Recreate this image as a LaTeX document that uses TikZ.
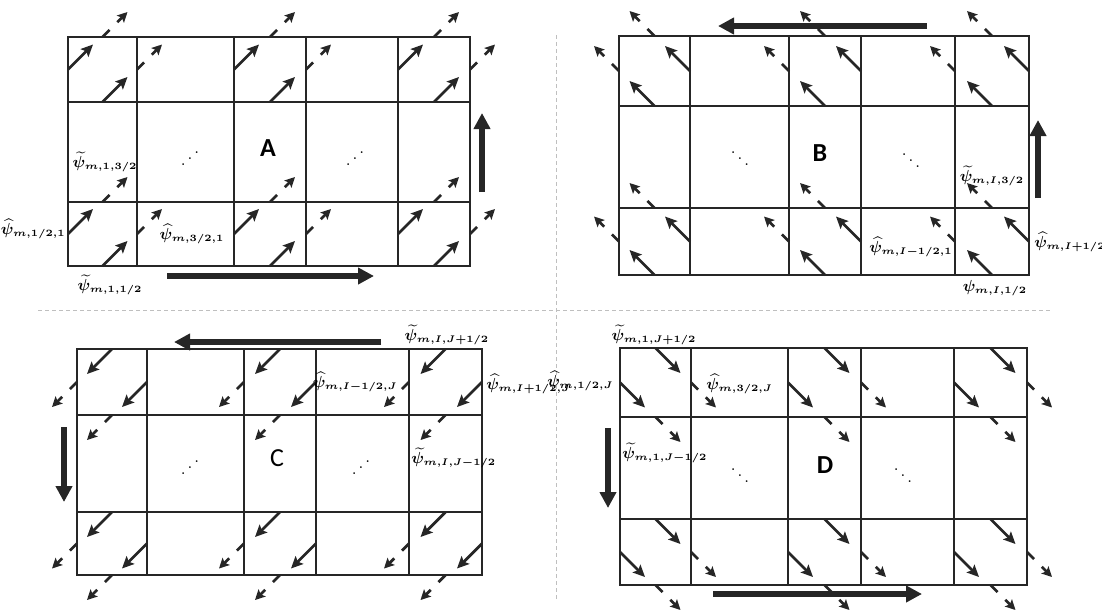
\RequirePackage{fix-cm}
\documentclass[tikz,border=0pt]{standalone}
\usepackage{amsmath}
\usepackage{bm}
\usepackage{fontspec}
\newfontfamily\panelfont{Carlito}
\usetikzlibrary{arrows.meta}
\DeclareMathSizes{8}{8}{4.8}{4}

\tikzset{
  cellgrid/.style={draw=black!85, line width=1.4pt},
  flux/.style={black!85, line width=1.4pt, -{Stealth[length=6pt,width=5.5pt,inset=1.2pt]}},
  fluxout/.style={black!85, line width=1.4pt, dash pattern=on 5pt off 5.5pt, -{Stealth[length=5pt,width=5pt,inset=1pt]}},
  sweep/.style={black!85, line width=3pt, -{Triangle[length=8pt,width=8pt]}},
  divider/.style={black!25, line width=0.4pt, dash pattern=on 2pt off 1.5pt},
  lab/.style={inner sep=0pt, font=\fontsize{8}{9.5}\selectfont\boldmath},
  panel/.style={font=\panelfont\bfseries\fontsize{13}{15}\selectfont},
  dotsn/.style={inner sep=0pt, font=\footnotesize\boldmath},
}

\begin{document}
\begin{tikzpicture}[x=0.5pt, y=-0.5pt]
\useasboundingbox (0,0) rectangle (1102,612);

% dividers
\draw[divider] (556,35) -- (556,600);
\draw[divider] (38,310) -- (1052,310);

% ---- A : sweep to the upper right
\draw[cellgrid] (68,37) rectangle (470,266);
\foreach \x in {137,234,306,398} \draw[cellgrid] (\x,37) -- (\x,266);
\foreach \y in {102,202} \draw[cellgrid] (68,\y) -- (470,\y);
\foreach \xa/\xb in {68/137,234/306,398/470}
  \foreach \ya/\yb in {37/102,202/266} {
    \pgfmathsetmacro\xm{(\xa+\xb)/2}
    \pgfmathsetmacro\ym{(\ya+\yb)/2}
    \draw[flux] (\xa,\ym) -- ++(25,-25);
    \draw[flux] (\xm,\yb) -- ++(25,-25);
    \draw[fluxout] (\xb,\ym) -- ++(25,-25);
    \draw[fluxout] (\xm,\ya) -- ++(25,-25);
  }
\draw[sweep] (167,276) -- (374,276);
\draw[sweep] (482,192) -- (482,113);
\node[lab] (psiAy) at (105,162) {$\widetilde{\psi}_{m,1,3/2}$};
\node[lab, anchor=east] (psiAxl) at (66,229) {$\widehat{\psi}_{m,1/2,1}$};
\node[lab] (psiAxr) at (192,234) {$\widehat{\psi}_{m,3/2,1}$};
\node[lab] (psiAb) at (110,285) {$\widetilde{\psi}_{m,1,1/2}$};
\node[panel] (tagA) at (268,148) {A};
\node[dotsn] (dotsA1) at (190,153) {\reflectbox{$\ddots$}};
\node[dotsn] (dotsA2) at (355,153) {\reflectbox{$\ddots$}};

% ---- B : sweep to the upper left
\draw[cellgrid] (619,36) rectangle (1029,275);
\foreach \x in {690,789,861,955} \draw[cellgrid] (\x,36) -- (\x,275);
\foreach \y in {106,208} \draw[cellgrid] (619,\y) -- (1029,\y);
\foreach \xa/\xb in {619/690,789/861,955/1029}
  \foreach \ya/\yb in {36/106,208/275} {
    \pgfmathsetmacro\xm{(\xa+\xb)/2}
    \pgfmathsetmacro\ym{(\ya+\yb)/2}
    \draw[flux] (\xb,\ym) -- ++(-25,-25);
    \draw[flux] (\xm,\yb) -- ++(-25,-25);
    \draw[fluxout] (\xa,\ym) -- ++(-25,-25);
    \draw[fluxout] (\xm,\ya) -- ++(-25,-25);
  }
\draw[sweep] (927,26) -- (718,26);
\draw[sweep] (1038,198) -- (1038,120);
\node[lab] (psiBy) at (992,176) {$\widetilde{\psi}_{m,I,3/2}$};
\node[lab, anchor=east] (psiBxl) at (953,247) {$\widehat{\psi}_{m,I-1/2,1}$};
\node[lab, anchor=west] (psiBxr) at (1034,242) {$\widehat{\psi}_{m,I+1/2,1}$};
\node[lab] (psiBb) at (995,288) {$\psi_{m,I,1/2}$};
\node[panel] (tagB) at (820,153) {B};
\node[dotsn] (dotsB1) at (740,153) {$\ddots$};
\node[dotsn] (dotsB2) at (911,155) {$\ddots$};

% ---- C : sweep to the lower left
\draw[cellgrid] (77,349) rectangle (482,575);
\foreach \x in {147,244,316,409} \draw[cellgrid] (\x,349) -- (\x,575);
\foreach \y in {415,512} \draw[cellgrid] (77,\y) -- (482,\y);
\foreach \xa/\xb in {77/147,244/316,409/482}
  \foreach \ya/\yb in {349/415,512/575} {
    \pgfmathsetmacro\xm{(\xa+\xb)/2}
    \pgfmathsetmacro\ym{(\ya+\yb)/2}
    \draw[flux] (\xm,\ya) -- ++(-25,25);
    \draw[flux] (\xb,\ym) -- ++(-25,25);
    \draw[fluxout] (\xa,\ym) -- ++(-25,25);
    \draw[fluxout] (\xm,\yb) -- ++(-25,25);
  }
\draw[sweep] (381,342) -- (174,342);
\draw[sweep] (64,427) -- (64,502);
\node[lab] (psiCt) at (447,335) {$\widetilde{\psi}_{m,I,J+1/2}$};
\node[lab, anchor=east] (psiCxl) at (398,382) {$\widehat{\psi}_{m,I-1/2,J}$};
\node[lab, anchor=west] (psiCxr) at (486,384) {$\widehat{\psi}_{m,I+1/2,J}$};
\node[lab, anchor=west] (psiCy) at (411,458) {$\widetilde{\psi}_{m,I,J-1/2}$};
\node[panel, font=\panelfont\fontsize{13}{15}\selectfont] (tagC) at (277,458) {C};
\node[dotsn] (dotsC1) at (190,462) {\reflectbox{$\ddots$}};
\node[dotsn] (dotsC2) at (361,462) {\reflectbox{$\ddots$}};

% ---- D : sweep to the lower right
\draw[cellgrid] (620,348) rectangle (1027,585);
\foreach \x in {691,788,861,954} \draw[cellgrid] (\x,348) -- (\x,585);
\foreach \y in {417,519} \draw[cellgrid] (620,\y) -- (1027,\y);
\foreach \xa/\xb in {620/691,788/861,954/1027}
  \foreach \ya/\yb in {348/417,519/585} {
    \pgfmathsetmacro\xm{(\xa+\xb)/2}
    \pgfmathsetmacro\ym{(\ya+\yb)/2}
    \draw[flux] (\xm,\ya) -- ++(25,25);
    \draw[flux] (\xa,\ym) -- ++(25,25);
    \draw[fluxout] (\xb,\ym) -- ++(25,25);
    \draw[fluxout] (\xm,\yb) -- ++(25,25);
  }
\draw[sweep] (713,594) -- (922,594);
\draw[sweep] (608,428) -- (608,508);
\node[lab] (psiDt) at (654,335) {$\widetilde{\psi}_{m,1,J+1/2}$};
\node[lab, anchor=east] (psiDxl) at (614,381) {$\widehat{\psi}_{m,1/2,J}$};
\node[lab, anchor=west] (psiDxr) at (706,384) {$\widehat{\psi}_{m,3/2,J}$};
\node[lab, anchor=west] (psiDy) at (622,453) {$\widetilde{\psi}_{m,1,J-1/2}$};
\node[panel] (tagD) at (825,465) {D};
\node[dotsn] (dotsD1) at (740,470) {$\ddots$};
\node[dotsn] (dotsD2) at (903,470) {$\ddots$};
\end{tikzpicture}
\end{document}
